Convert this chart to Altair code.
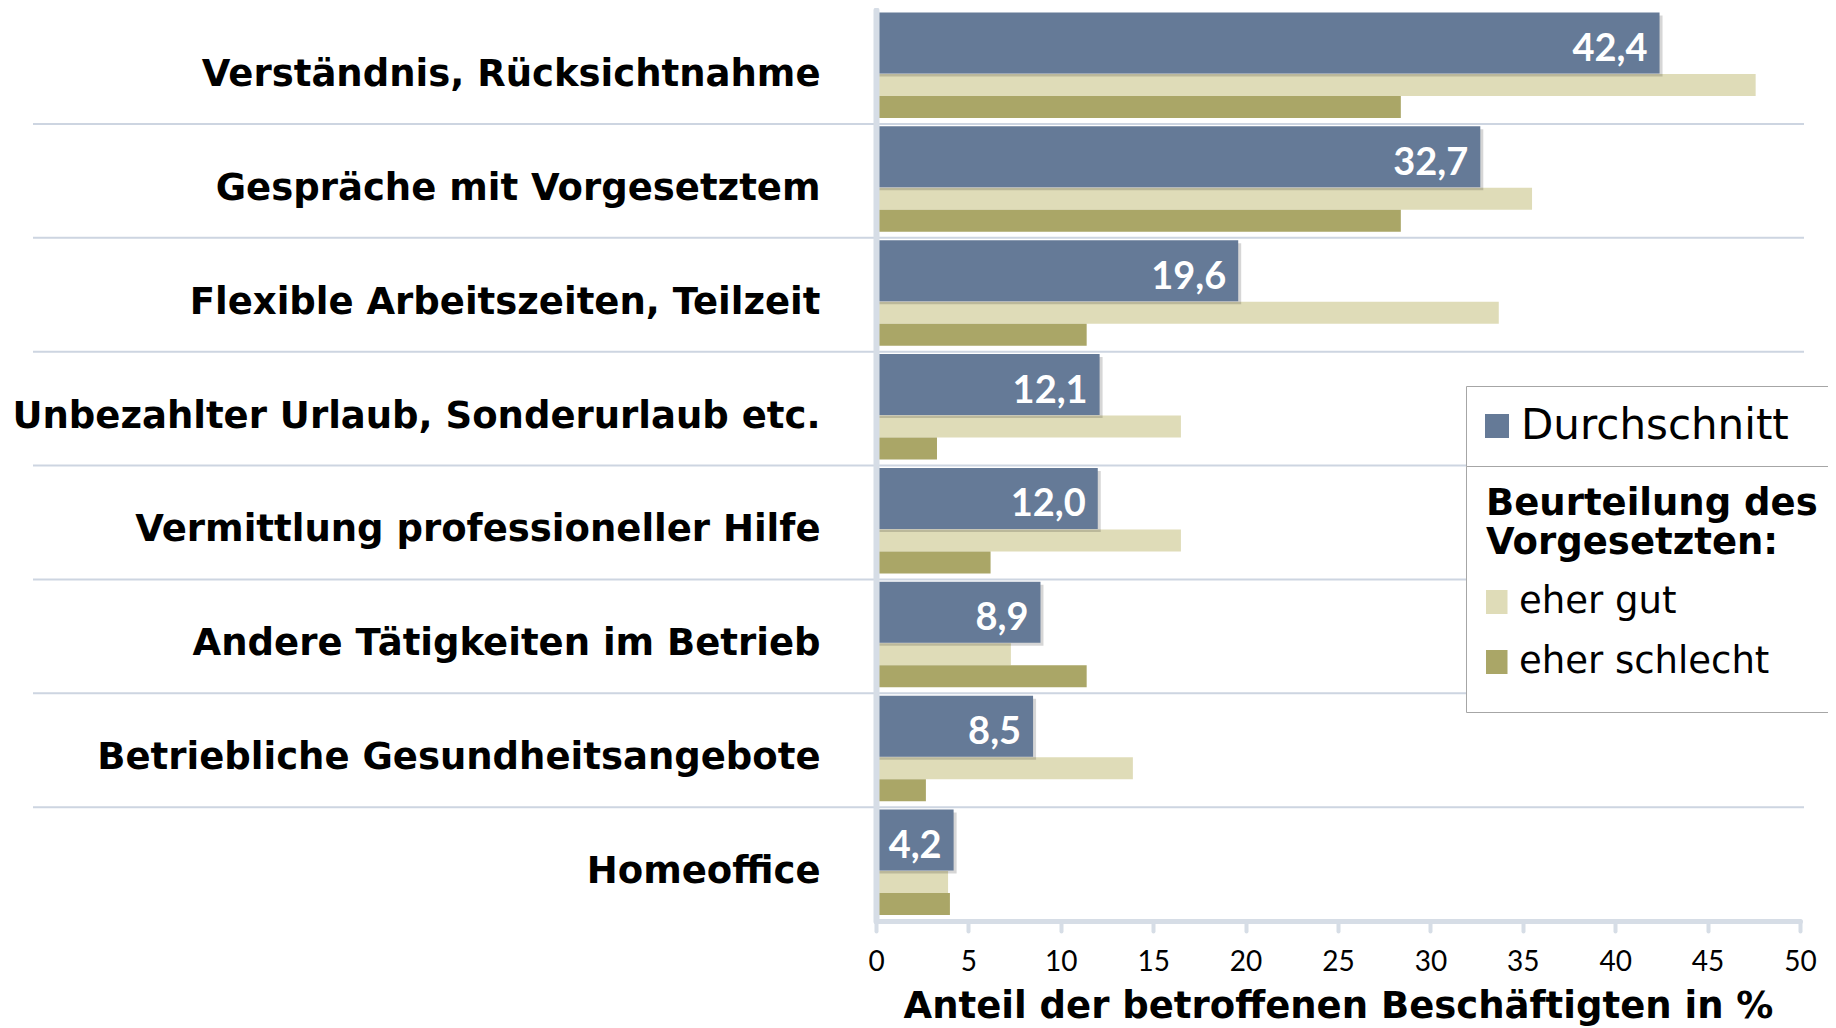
import altair as alt
import pandas as pd

# ---------------- data ----------------
categories = [
    "Verständnis, Rücksichtnahme",
    "Gespräche mit Vorgesetztem",
    "Flexible Arbeitszeiten, Teilzeit",
    "Unbezahlter Urlaub, Sonderurlaub etc.",
    "Vermittlung professioneller Hilfe",
    "Andere Tätigkeiten im Betrieb",
    "Betriebliche Gesundheitsangebote",
    "Homeoffice",
]
durchschnitt = [42.4, 32.7, 19.6, 12.1, 12.0, 8.9, 8.5, 4.2]
eher_gut = [47.6, 35.5, 33.7, 16.5, 16.5, 7.3, 13.9, 3.9]
eher_schlecht = [28.4, 28.4, 11.4, 3.3, 6.2, 11.4, 2.7, 4.0]

avg_series = ["Durchschnitt"]
rating_series = ["eher gut", "eher schlecht"]
x_ticks = [0, 5, 10, 15, 20, 25, 30, 35, 40, 45, 50]
x_title = "Anteil der betroffenen Beschäftigten in %"
legend_title = ["Beurteilung des", "Vorgesetzten:"]

# ---------------- styling ----------------
C_AVG = "#657a97"
C_GUT = "#dfdcb8"
C_BAD = "#aaa667"
C_GRID = "#cdd5e1"
C_AXIS = "#d6dde6"

df_avg = pd.DataFrame({"cat": categories, "value": durchschnitt, "series": avg_series * len(categories)})
df_avg["label"] = [f"{v:.1f}".replace(".", ",") for v in durchschnitt]
df_rat = pd.DataFrame({
    "cat": categories + categories,
    "value": eher_gut + eher_schlecht,
    "series": [rating_series[0]] * len(categories) + [rating_series[1]] * len(categories),
})
df_grid = pd.DataFrame({"cat": categories[1:]})

y_scale = alt.Scale(domain=categories, paddingInner=0, paddingOuter=0)
y_axis = alt.Axis(
    title=None, labelFont="DejaVu Sans", labelFontWeight="bold", labelFontSize=37,
    labelColor="black", labelPadding=56, labelLimit=900, labelOffset=8, ticks=False,
    domain=True, domainColor=C_AXIS, domainWidth=6, domainCap="round",
    grid=False, zindex=1,
)
x_scale = alt.Scale(domain=[0, 50], nice=False, zero=True)
x_axis = alt.Axis(
    values=x_ticks, title=x_title, titleFont="DejaVu Sans", titleFontWeight="bold",
    titleFontSize=37, titleColor="black", titlePadding=12,
    labelFont="Lato", labelFontSize=28, labelColor="black", labelPadding=17,
    labelFlush=False, tickSize=10, tickWidth=4, tickColor=C_AXIS, tickCap="round",
    domainColor=C_AXIS, domainWidth=5, domainCap="round", grid=False, zindex=1,
)


def Y(**kw):
    return alt.Y("cat:N", sort=categories, scale=y_scale, axis=y_axis, **kw)


X = alt.X("value:Q", scale=x_scale, axis=x_axis, stack=None)

# the legend box runs past the right edge of the picture, as in the reference:
# one blank (non-whitespace) braille cell widens the first legend box
leg_avg = alt.Legend(
    title=None, orient="none", legendX=590, legendY=376, direction="vertical",
    symbolType="square", symbolSize=576, symbolStrokeWidth=0,
    symbolOffset={"expr": "-9"},
    labelFont="DejaVu Sans", labelFontSize=42, labelColor="black", labelOffset=3,
    labelLimit=900, padding=19, fillColor="white", strokeColor="#a6a6a6",
    labelExpr="datum.label + '\u2800'",
)
leg_rat = alt.Legend(
    title=legend_title, orient="none", legendX=590, legendY=456, direction="vertical",
    titleFont="DejaVu Sans", titleFontWeight="bold", titleFontSize=37, titleColor="black",
    titleLineHeight=39, titleLimit=700, titlePadding=10, titleAnchor="start",
    symbolType="square", symbolSize=576, symbolStrokeWidth=0,
    symbolOffset={"expr": "-9"},
    labelFont="DejaVu Sans", labelFontSize=37, labelColor="black", labelOffset=5,
    labelLimit=700, rowPadding=0, clipHeight=60, padding=20,
    fillColor="white", strokeColor="#a6a6a6",
)

color_rat = alt.Color("series:N", scale=alt.Scale(domain=rating_series, range=[C_GUT, C_BAD]), legend=leg_rat)
color_avg = alt.Color("series:N", scale=alt.Scale(domain=avg_series, range=[C_AVG]), legend=leg_avg)

grid = alt.Chart(df_grid).mark_rule(color=C_GRID, strokeWidth=2).encode(
    y=Y(bandPosition=0), x=alt.value(-843), x2=alt.value(928)
)

gut = alt.Chart(df_rat).transform_filter(alt.datum.series == rating_series[0]).mark_bar(
    height=22, yOffset=18
).encode(x=X, y=Y(), color=color_rat)
bad = alt.Chart(df_rat).transform_filter(alt.datum.series == rating_series[1]).mark_bar(
    height=22, yOffset=40
).encode(x=X, y=Y(), color=color_rat)
ratings = alt.layer(gut, bad)

shadow = alt.Chart(df_avg).mark_bar(
    height=61, yOffset=-21, xOffset=3, color="black", opacity=0.16
).encode(x=X, y=Y())

blue = alt.Chart(df_avg).mark_bar(height=61, yOffset=-24).encode(x=X, y=Y(), color=color_avg)

labels = alt.Chart(df_avg).mark_text(
    align="right", baseline="middle", dx=-12, yOffset=-17,
    font="Lato", fontWeight="bold", fontSize=38, color="white",
).encode(x=X, y=Y(), text="label:N")

chart = (
    alt.layer(grid, ratings, shadow, blue, labels)
    .resolve_scale(color="independent")
    .properties(
        width=924, height=911,
        padding={"left": 868, "top": 2, "right": 28, "bottom": 105},
        autosize=alt.AutoSizeParams(type="none"),
        background="white",
    )
    .configure_view(stroke=None)
)

chart.save("out.html", embed_options={"renderer": "svg", "actions": False})
